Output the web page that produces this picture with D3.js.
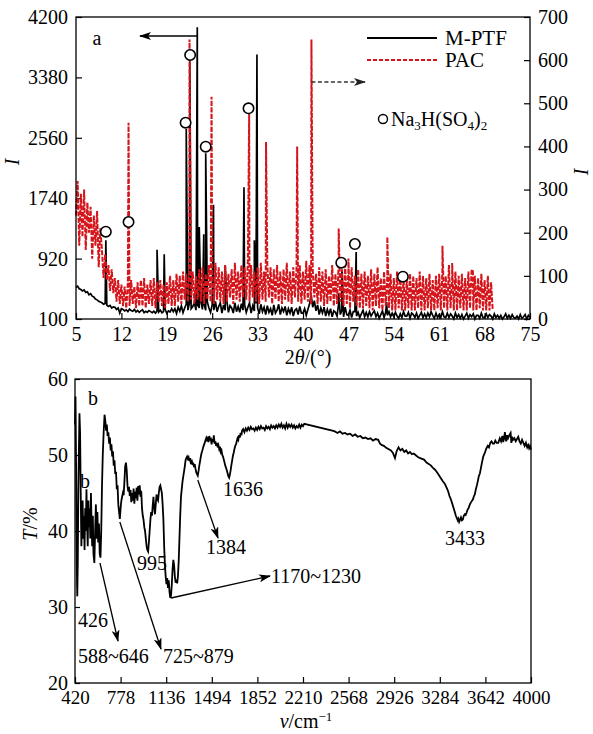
<!DOCTYPE html>
<html><head><meta charset="utf-8">
<script src="https://cdn.jsdelivr.net/npm/d3@7"></script>
<style>
body{margin:0;background:#fff}
svg text{font-family:"Liberation Serif","Times New Roman",serif;fill:#000}
</style>
</head><body>
<svg id="c" width="593" height="734"></svg>
<script>
// ---------------- DATA: XRD (panel a) ----------------
const xrdXTicks = [5,12,19,26,33,40,47,54,61,68,75];
const xrdLeftTicks = [100,920,1740,2560,3380,4200];
const xrdRightTicks = [0,100,200,300,400,500,600,700];
// M-PTF background (left axis), 2θ from 5 in 0.25° steps
const mptfStart = 5, mptfStep = 0.25;
const mptfBg = [
530,545,510,500, 480,495,460,470, 430,445,410,400, 370,360,340,330, 320,300,310,290,
270,285,250,265, 260,230,250,180, 240,230,210,225, 200,235,215,205, 230,195,215,190,
210,225,185,205, 190,215,200,185, 205,180,210,195, 220,185,200,230, 175,210,195,240,
200,240,175,260, 205,280,185,250, 300,220,320,240, 270,320,220,290, 250,340,230,300,
220,330,250,190, 290,220,340,200, 270,320,180,290, 220,350,190,280, 250,180,320,200,
270,190,310,220, 290,190,260,320, 180,280,210,310, 250,170,300,200, 260,160,280,190,
240,150,290,180, 220,300,160,250, 200,270,150,240, 180,260,140,220, 240,160,270,180,
180,240,150,230, 300,430,260,350, 210,290,160,250, 180,260,140,230, 160,240,130,210,
190,140,310,160, 220,130,260,160, 150,220,120,200, 200,140,190,120, 170,220,130,190,
130,200,140,180, 210,130,180,110, 160,210,120,190, 150,200,130,180, 130,190,140,110,
170,120,200,140, 140,190,110,180, 160,120,180,110, 150,190,120,170, 120,180,130,200,
150,110,180,120, 160,120,200,130, 120,180,120,170, 140,100,180,120, 160,110,160,100,
140,180,110,160, 130,170,100,150, 150,110,180,120, 120,170,120,160, 140,100,170,120,
150,110,150,100, 130,170,110,150, 110,160,120,110, 140,100,160,110, 130,160,100,150,
120];
// M-PTF peaks [2θ, I]
const mptfPeaks = [[9.6,1170],[17.5,1040],[18.6,980],[22.0,2680],[22.55,3600],[23.7,4060],
[24.0,1350],[24.7,1250],[25.0,2350],[26.2,1650],[28.0,830],[30.9,1890],[32.5,1170],
[32.9,3690],[45.5,450],[46.0,770],[48.2,1010],[52.9,330]];
// PAC background (right axis), 2θ from 5 in 0.25° steps
const pacStart = 5, pacStep = 0.25;
const pacBg = [
240,320,170,290, 190,300,160,270, 200,260,140,240, 170,250,120,210, 160,95,150,90,
125,65,115,60, 95,40,90,35, 80,30,75,25, 85,30,90,35, 75,25,85,30,
90,30,95,25, 80,35,90,30, 95,25,85,40, 90,30,80,25, 85,35,100,30,
90,30,105,40, 100,35,110,45, 105,40,115,45, 110,35,100,45, 115,40,120,35,
105,45,125,40, 110,35,130,45, 120,40,110,35, 125,40,105,50, 115,35,130,45,
110,40,125,50, 120,45,135,40, 125,50,110,40, 120,35,130,45, 110,40,125,50,
120,35,115,45, 125,40,110,35, 115,45,130,40, 110,35,120,50, 115,40,125,35,
110,45,135,40, 125,35,115,50, 105,35,120,40, 110,30,115,35, 100,40,125,30,
105,35,130,40, 115,30,125,35, 110,25,120,40, 100,30,115,25, 105,25,110,30,
100,25,115,20, 105,30,120,25, 95,20,110,30, 100,25,105,20, 95,20,110,25,
100,20,95,20, 90,25,105,20, 100,20,95,25, 110,20,100,20, 95,25,105,20,
90,20,100,25, 105,20,115,25, 100,20,125,25, 95,20,110,20, 100,25,105,20,
95,20,110,25, 115,20,100,20, 95,25,105,20, 90,20,100,20, 85,20];
// PAC peaks [2θ, I (right axis)]
const pacPeaks = [[13.1,455],[22.5,648],[25.9,515],[31.7,475],[34.3,410],[39.1,400],
[41.3,648],[45.5,210],[47.0,140],[53.0,190],[58.0,105],[61.5,170],[63.0,130],[66.2,110]];
// Na3H(SO4)2 markers [2θ, value on left axis]
const naMarks = [[9.6,1285],[13.1,1417],[21.9,2765],[22.6,3684],[25.0,2439],[31.6,2960],
[45.9,864],[48.0,1118],[55.4,674]];

// ---------------- DATA: FTIR (panel b) ----------------
const irXTicks = [420,778,1136,1494,1852,2210,2568,2926,3284,3642,4000];
const irYTicks = [20,30,40,50,60];
const irNu = [420,424,428,432,436,438,442,446,450,455,460,465,470,475,480,485,490,495,500,505,
510,515,520,525,530,535,540,545,550,555,560,565,572,578,584,590,596,602,608,614,
620,626,632,638,645,652,658,664,670,676,682,688,694,700,706,712,718,724,730,736,
742,748,754,760,766,772,778,784,790,796,802,808,814,820,826,832,838,844,850,856,
862,868,874,880,886,892,898,904,910,916,922,928,934,940,946,952,958,964,970,976,
982,988,994,1000,1006,1012,1018,1024,1030,1036,1042,1048,1054,1060,1066,1072,1078,1084,1090,1096,
1102,1108,1114,1120,1126,1132,1138,1144,1150,1156,1162,1168,1174,1180,1186,1192,1198,1204,1210,1216,
1222,1228,1234,1240,1246,1252,1258,1264,1270,1276,1282,1288,1294,1300,1306,1312,1318,1324,1330,1336,
1342,1348,1354,1360,1366,1372,1378,1384,1390,1396,1402,1408,1414,1420,1426,1432,1438,1444,1450,1456,
1462,1468,1474,1480,1486,1492,1498,1504,1510,1516,1522,1528,1534,1540,1546,1552,1558,1564,1570,1576,
1582,1588,1594,1600,1606,1612,1618,1624,1630,1636,1642,1648,1654,1660,1666,1672,1678,1684,1690,1696,
1702,1708,1714,1720,1726,1732,1740,1750,1760,1770,1780,1790,1800,1810,1820,1830,1840,1850,1860,1870,
1880,1890,1900,1910,1920,1930,1940,1950,1960,1970,1980,1990,2000,2010,2020,2030,2040,2050,2060,2070,
2080,2090,2100,2110,2120,2130,2140,2150,2160,2170,2180,2190,2200,2210,2220,2440,2460,2480,2500,2520,
2540,2560,2580,2600,2620,2640,2660,2680,2700,2720,2740,2760,2780,2800,2815,2830,2845,2860,2880,2900,
2915,2932,2945,2960,2975,2990,3005,3020,3035,3050,3065,3080,3100,3115,3130,3145,3160,3180,3200,3215,
3230,3245,3259,3275,3290,3305,3324,3340,3350,3360,3370,3380,3389,3400,3410,3418,3425,3430,3436,3443,
3450,3458,3465,3472,3480,3487,3494,3502,3510,3520,3530,3538,3545,3552,3559,3567,3575,3583,3590,3599,
3607,3615,3625,3638,3648,3660,3670,3680,3690,3700,3710,3720,3730,3743,3755,3765,3775,3782,3790,3795,
3800,3805,3812,3820,3830,3840,3846,3852,3860,3870,3880,3890,3900,3910,3920,3930,3940,3950,3960,3970,
3978,3985,3992,4000];
const irT = [54,57.7,50,40,33,31.4,36,45,50,55.5,53,45,38,41,44,39,42,37.5,43,40,
45.5,41,38,44,40.5,43,39,45,41,38,42,37,35.8,40,43.5,39,42.5,38.5,41,37,
36.5,40,46,50,53,55.3,54.5,53.2,54,52.5,53,51.5,52.3,50.6,51.4,49.8,50.5,48.6,49.3,47.5,
47.8,45.5,46,43.5,42.5,41.6,43,44,44.5,45,44.7,46.5,48.5,49,48,46,45.2,45.8,44.6,45.4,
43.8,45,44,45.6,43.6,45.2,44.3,45.7,44,45.9,44.8,46,44.5,45.3,43,42,41.5,40.5,40,39,
38,37.5,37.3,38.5,40,41.5,42.5,42,43.3,44.5,43,42.2,43.5,44.8,44.2,44,45,45.8,46,45.5,
45,43.5,41.5,38,35.5,34,33,33.8,32.5,33.5,32,31.2,31.5,33,35,36.2,35.5,34,33.2,33.6,
33.1,34,36,39,42,44.5,45.5,46.5,47.2,47.8,48.5,49.3,49.6,49.8,49.5,49.7,49.2,49.6,48.8,49.4,
48.7,49,48.4,48.8,48.2,47.7,47.5,47.3,47.9,48.6,49.2,49.8,50.3,50.6,51,51.3,51.6,51.9,52.2,51.8,
52.4,51.7,52.5,51.9,52.3,51.4,52.1,51.7,52.6,51.5,51.8,51.2,51.6,51,51.3,50.8,51.1,50.4,50.6,50,
49.8,49.4,49,48.6,48.3,48,47.6,47.2,47,47.4,48,48.7,49.3,49.9,50.3,50.8,51.2,51.4,51.8,52.2,
52,52.6,52.3,52.9,52.6,53.2,53.4,53,53.5,53.2,53.6,53.3,53.7,53.4,53.5,53.2,53.6,53.3,53.7,53.4,
53.8,53.5,53.6,53.3,53.8,53.5,53.7,53.4,53.9,53.6,53.8,53.5,53.9,53.6,54,53.7,54.1,53.6,53.9,53.5,
54.1,53.6,54,53.7,54,53.6,53.9,53.5,53.8,53.6,54,53.6,54,53.8,54.1,53.2,53.1,52.9,53.1,52.8,
52.9,52.7,52.8,52.5,52.7,52.4,52.5,52.2,52.3,52.1,52.2,51.9,52.1,52,51.5,51.3,51.2,51,50.8,50.6,
50.3,49.6,50.5,51,50.6,50.8,50.4,50.6,50.2,50.4,50.1,50.2,49.9,49.7,49.6,49.5,49.4,49,48.8,48.6,
48.3,48.1,47.8,47.4,47,46.6,46.2,45.6,45.2,44.6,44.2,43.7,43.2,42.6,42,41.7,41.4,41.6,41.2,41.5,
41.8,41.4,41.5,42,42.2,42.1,42.4,42.8,43,43.5,43.8,44,44.2,44.6,44.8,45.5,46,46.6,47.2,47.6,
48.3,49,49.8,50.3,50.8,51.2,51,51.6,51.8,51.5,51.5,51.9,51.6,51.6,52.2,51.8,52.5,51.7,52.4,53,
52.2,51.8,52.6,52.2,52.6,52.9,51.6,52.4,52,52.2,51.8,52.1,52.4,51.8,51.5,52,51.6,51.2,51.6,51,
51.3,50.9,51.2,50.7];

// ---------------- DRAW ----------------
const svg = d3.select("#c");
const FS = 20;
const fmt = d3.format("d");

// Panel a scales
const xA = d3.scaleLinear().domain([5,75]).range([76,530]);
const yL = d3.scaleLinear().domain([100,4200]).range([319,17]);
const yR = d3.scaleLinear().domain([0,700]).range([319,17]);
// Panel b scales
const xB = d3.scaleLinear().domain([420,4000]).range([75,531]);
const yB = d3.scaleLinear().domain([20,60]).range([683,379]);

function buildSeries(start, step, bg, peaks){
  const pts = bg.map((v,i)=>[start+i*step, v]);
  peaks.forEach(p=>pts.push(p));
  pts.sort((a,b)=>a[0]-b[0]);
  return pts;
}
const mptf = buildSeries(mptfStart, mptfStep, mptfBg, mptfPeaks);
const pac = buildSeries(pacStart, pacStep, pacBg, pacPeaks);

function styleAxis(size){
  return function(g){
    g.select(".domain").remove();
    g.selectAll("text").style("font-size", size+"px").style("font-family",'"Liberation Serif","Times New Roman",serif');
    g.selectAll("line").attr("stroke","#000").attr("stroke-width",1.2);
  };
}

// ----- Panel a axes
svg.append("g").attr("transform","translate(0,319)")
  .call(d3.axisBottom(xA).tickValues(xrdXTicks).tickFormat(fmt).tickSizeInner(-6).tickSizeOuter(0).tickPadding(8))
  .call(styleAxis(FS));
svg.append("g").attr("transform","translate(76,0)")
  .call(d3.axisLeft(yL).tickValues(xrdLeftTicks).tickFormat(fmt).tickSizeInner(-6).tickSizeOuter(0).tickPadding(8))
  .call(styleAxis(FS));
svg.append("g").attr("transform","translate(530,0)")
  .call(d3.axisRight(yR).tickValues(xrdRightTicks).tickFormat(fmt).tickSizeInner(-6).tickSizeOuter(0).tickPadding(8))
  .call(styleAxis(FS));

// data lines
const lineM = d3.line().x(d=>xA(d[0])).y(d=>yL(d[1]));
const lineP = d3.line().x(d=>xA(d[0])).y(d=>yR(d[1]));
svg.append("path").attr("d", lineM(mptf)).attr("fill","none").attr("stroke","#000").attr("stroke-width",1.7);
svg.append("path").attr("d", lineP(pac)).attr("fill","none").attr("stroke","#d4161c").attr("stroke-width",2)
  .attr("stroke-dasharray","5,1.5");

// frame a
svg.append("rect").attr("x",76).attr("y",17).attr("width",454).attr("height",302)
  .attr("fill","none").attr("stroke","#000").attr("stroke-width",1.3);

// markers
svg.selectAll(".na").data(naMarks).enter().append("circle")
  .attr("cx",d=>xA(d[0])).attr("cy",d=>yL(d[1])).attr("r",5.2)
  .attr("fill","#fff").attr("stroke","#000").attr("stroke-width",1.6);

// arrows defs
const defs = svg.append("defs");
defs.append("marker").attr("id","ah").attr("viewBox","0 0 12 8").attr("refX",11).attr("refY",4)
  .attr("markerWidth",12).attr("markerHeight",8).attr("markerUnits","userSpaceOnUse").attr("orient","auto")
  .append("path").attr("d","M0,0 L12,4 L0,8 L3,4 Z").attr("fill","#000");
defs.append("marker").attr("id","ah2").attr("viewBox","0 0 12 8").attr("refX",11).attr("refY",4)
  .attr("markerWidth",12).attr("markerHeight",8).attr("markerUnits","userSpaceOnUse").attr("orient","auto")
  .append("path").attr("d","M0,0 L12,4 L0,8 L3,4 Z").attr("fill","#222");

// arrow left from M-PTF tallest peak
svg.append("line").attr("x1",xA(23.7)).attr("y1",36).attr("x2",140).attr("y2",36)
  .attr("stroke","#000").attr("stroke-width",1.3).attr("marker-end","url(#ah)");
// dashed arrow right from PAC peak
svg.append("line").attr("x1",xA(41.3)).attr("y1",82).attr("x2",365).attr("y2",82)
  .attr("stroke","#333").attr("stroke-width",1.3).attr("stroke-dasharray","4,2.5").attr("marker-end","url(#ah2)");

// labels panel a
svg.append("text").attr("x",97).attr("y",45).attr("text-anchor","middle").style("font-size",FS+"px").text("a");
// legend
svg.append("line").attr("x1",367).attr("x2",437).attr("y1",38).attr("y2",38).attr("stroke","#000").attr("stroke-width",2);
svg.append("line").attr("x1",367).attr("x2",437).attr("y1",60).attr("y2",60).attr("stroke","#d4161c").attr("stroke-width",2).attr("stroke-dasharray","4,2");
svg.append("text").attr("x",445).attr("y",45).style("font-size","21px").text("M-PTF");
svg.append("text").attr("x",445).attr("y",67).style("font-size","21px").text("PAC");
svg.append("circle").attr("cx",383).attr("cy",119).attr("r",4.5).attr("fill","#fff").attr("stroke","#000").attr("stroke-width",1.4);
const na = svg.append("text").attr("x",391).attr("y",126).style("font-size","20px");
na.append("tspan").text("Na");
na.append("tspan").attr("dy",4).style("font-size","13px").text("3");
na.append("tspan").attr("dy",-4).text("H(SO");
na.append("tspan").attr("dy",4).style("font-size","13px").text("4");
na.append("tspan").attr("dy",-4).text(")");
na.append("tspan").attr("dy",4).style("font-size","13px").text("2");

// axis titles a
const tA = svg.append("text").attr("x",308).attr("y",364).attr("text-anchor","middle").style("font-size",FS+"px");
tA.append("tspan").text("2");
tA.append("tspan").style("font-style","italic").text("θ");
tA.append("tspan").text("/(°)");
svg.append("text").attr("transform","translate(19,162) rotate(-90)").attr("text-anchor","middle")
  .style("font-size",FS+"px").style("font-style","italic").text("I");
svg.append("text").attr("transform","translate(588,172) rotate(-90)").attr("text-anchor","middle")
  .style("font-size",FS+"px").style("font-style","italic").text("I");

// ----- Panel b axes
svg.append("g").attr("transform","translate(0,683)")
  .call(d3.axisBottom(xB).tickValues(irXTicks).tickFormat(fmt).tickSizeInner(-6).tickSizeOuter(0).tickPadding(8))
  .call(styleAxis(19));
svg.append("g").attr("transform","translate(75,0)")
  .call(d3.axisLeft(yB).tickValues(irYTicks).tickFormat(fmt).tickSizeInner(-5).tickSizeOuter(0).tickPadding(7))
  .call(styleAxis(FS));

const lineIR = d3.line().x((d,i)=>xB(irNu[i])).y((d,i)=>yB(irT[i]));
svg.append("path").attr("d", lineIR(irT)).attr("fill","none").attr("stroke","#000").attr("stroke-width",1.8);

svg.append("rect").attr("x",75).attr("y",379).attr("width",456).attr("height",304)
  .attr("fill","none").attr("stroke","#000").attr("stroke-width",1.3);

// annotations panel b
function txt(x,y,s,size){ return svg.append("text").attr("x",x).attr("y",y).style("font-size",(size||FS)+"px").text(s); }
txt(88,405,"b");
txt(80,488,"b");
txt(78,627,"426");
txt(78,663,"588~646");
txt(163,663,"725~879");
txt(137,570,"995");
txt(206,554,"1384");
txt(223,496,"1636");
txt(271,583,"1170~1230");
txt(445,545,"3433");

function arrow(x1,y1,x2,y2){
  svg.append("line").attr("x1",x1).attr("y1",y1).attr("x2",x2).attr("y2",y2)
    .attr("stroke","#000").attr("stroke-width",1.3).attr("marker-end","url(#ah)");
}
arrow(xB(616),563,118,641);
arrow(xB(772),522,161,649);
arrow(xB(1174),598,270,576);
arrow(xB(1384),480,218,538);

// axis titles b
const tB = svg.append("text").attr("x",306).attr("y",728).attr("text-anchor","middle").style("font-size",FS+"px");
tB.append("tspan").style("font-style","italic").text("ν");
tB.append("tspan").text("/cm");
tB.append("tspan").attr("dy",-7).style("font-size","13px").text("−1");
const tT = svg.append("text").attr("transform","translate(37,524) rotate(-90)").attr("text-anchor","middle").style("font-size",FS+"px");
tT.append("tspan").style("font-style","italic").text("T");
tT.append("tspan").text("/%");
</script>
</body></html>
